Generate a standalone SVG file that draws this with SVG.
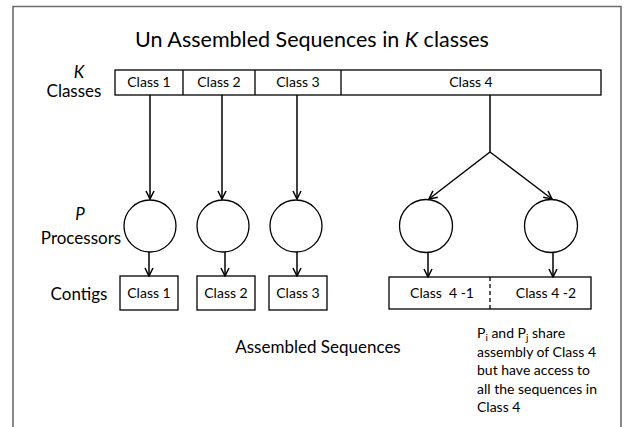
<svg xmlns="http://www.w3.org/2000/svg" width="630" height="427" viewBox="0 0 630 427">
<style>
text{font-family:Lato,"Liberation Sans",sans-serif;fill:#000}
.t{font-size:21.5px;text-anchor:middle}
.lbl{font-size:17px;text-anchor:middle}
.cls{font-size:14px;text-anchor:middle}
.note{font-size:14px}
.box{fill:#fff;stroke:#000;stroke-width:1.3}
.proc{fill:#fff;stroke:#000;stroke-width:1.3}
.conn{stroke:#000;stroke-width:1.5;fill:none}
</style>
<defs>
<marker id="ah" viewBox="0 0 10 10" refX="9" refY="5" markerWidth="10" markerHeight="10" markerUnits="userSpaceOnUse" orient="auto">
<path d="M1,1 L9,5 L1,9" fill="none" stroke="#000" stroke-width="1.5"/>
</marker>
</defs>
<rect width="630" height="427" fill="#fff"/>
<path d="M13,427 V6.5 H621 V427" fill="none" stroke="#6b6b6b" stroke-width="1.6"/>

<text class="t" x="312" y="47">Un Assembled Sequences in <tspan font-style="italic">K</tspan> classes</text>

<g id="labels">
<text class="lbl" x="79" y="78" font-style="italic">K</text>
<text class="lbl" x="74" y="97">Classes</text>
<text class="lbl" x="80" y="220" font-style="italic">P</text>
<text class="lbl" x="81" y="244">Processors</text>
<text class="lbl" x="79" y="300">Contigs</text>
<text class="lbl" x="318" y="353">Assembled Sequences</text>
</g>

<g id="class-bar">
<rect class="box" x="115" y="70" width="486" height="25"/>
<line class="box" x1="183" y1="70" x2="183" y2="95"/>
<line class="box" x1="255" y1="70" x2="255" y2="95"/>
<line class="box" x1="341" y1="70" x2="341" y2="95"/>
<text class="cls" x="149" y="87">Class 1</text>
<text class="cls" x="219" y="87">Class 2</text>
<text class="cls" x="298" y="87">Class 3</text>
<text class="cls" x="471" y="87">Class 4</text>
</g>

<g id="proc1"><circle class="proc" cx="150" cy="226" r="26"/></g>
<g id="proc2"><circle class="proc" cx="223" cy="226" r="26"/></g>
<g id="proc3"><circle class="proc" cx="296" cy="226" r="26"/></g>
<g id="proc4"><circle class="proc" cx="426" cy="226" r="26.5"/></g>
<g id="proc5"><circle class="proc" cx="551" cy="226" r="26.5"/></g>

<g id="contig1"><rect class="box" x="120" y="276" width="58" height="34"/><text class="cls" x="149" y="298">Class 1</text></g>
<g id="contig2"><rect class="box" x="197" y="276" width="58" height="34"/><text class="cls" x="226" y="298">Class 2</text></g>
<g id="contig3"><rect class="box" x="269" y="276" width="58" height="34"/><text class="cls" x="298" y="298">Class 3</text></g>
<g id="contig4">
<rect class="box" x="389" y="277" width="202" height="32"/>
<line x1="490" y1="277" x2="490" y2="309" stroke="#000" stroke-width="1.3" stroke-dasharray="4,3"/>
<text class="cls" x="442" y="298">Class&#160; 4 -1</text>
<text class="cls" x="546" y="298">Class 4 -2</text>
</g>

<g id="connectors">
<line class="conn" x1="150" y1="95" x2="150" y2="199" marker-end="url(#ah)"/>
<line class="conn" x1="222" y1="95" x2="222" y2="199" marker-end="url(#ah)"/>
<line class="conn" x1="297" y1="95" x2="297" y2="199" marker-end="url(#ah)"/>
<line class="conn" x1="490" y1="95" x2="490" y2="152"/>
<line class="conn" x1="490" y1="152" x2="429" y2="199" marker-end="url(#ah)"/>
<line class="conn" x1="490" y1="152" x2="552" y2="199" marker-end="url(#ah)"/>
<line class="conn" x1="149" y1="252" x2="149" y2="276" marker-end="url(#ah)"/>
<line class="conn" x1="225" y1="252" x2="225" y2="276" marker-end="url(#ah)"/>
<line class="conn" x1="297" y1="252" x2="297" y2="276" marker-end="url(#ah)"/>
<line class="conn" x1="428" y1="252.5" x2="428" y2="277" marker-end="url(#ah)"/>
<line class="conn" x1="553" y1="252.5" x2="553" y2="277" marker-end="url(#ah)"/>
</g>

<g id="note">
<text class="note" x="477" y="338">P<tspan font-size="10" dy="3">i</tspan><tspan dy="-3"> and P</tspan><tspan font-size="10" dy="3">j</tspan><tspan dy="-3"> share</tspan></text>
<text class="note" x="477" y="357">assembly of Class 4</text>
<text class="note" x="477" y="375">but have access to</text>
<text class="note" x="477" y="394">all the sequences in</text>
<text class="note" x="477" y="412">Class 4</text>
</g>
</svg>
